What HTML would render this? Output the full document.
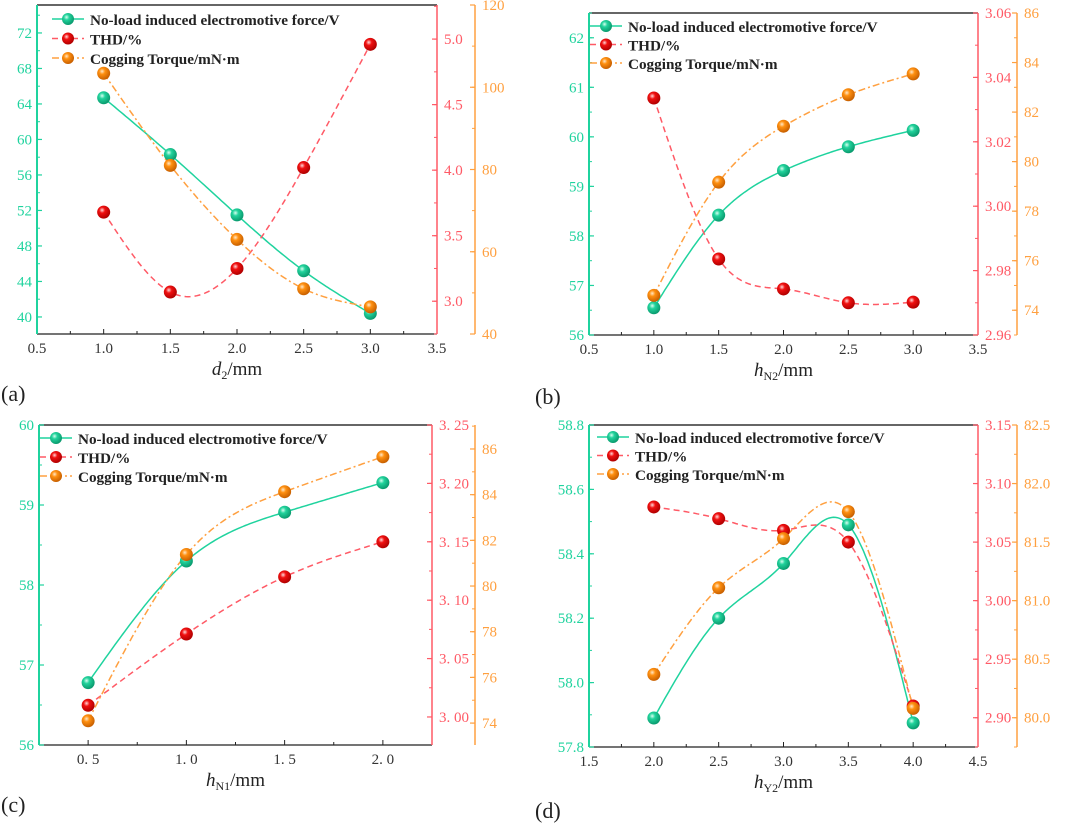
<!DOCTYPE html>
<html><head><meta charset="utf-8">
<style>
html,body{margin:0;padding:0;background:#fff;}
svg{display:block;font-family:"Liberation Serif",serif;}
</style></head>
<body>
<svg id="chart" width="1065" height="825" viewBox="0 0 1065 825" xmlns="http://www.w3.org/2000/svg">
<defs>
<radialGradient id="gT" cx="0.38" cy="0.35" r="0.65"><stop offset="0" stop-color="#d8fff0"/><stop offset="0.35" stop-color="#22d39c"/><stop offset="1" stop-color="#0a9a6e"/></radialGradient>
<radialGradient id="gR" cx="0.38" cy="0.35" r="0.65"><stop offset="0" stop-color="#ffd8d8"/><stop offset="0.35" stop-color="#f01010"/><stop offset="1" stop-color="#b00000"/></radialGradient>
<radialGradient id="gO" cx="0.38" cy="0.35" r="0.65"><stop offset="0" stop-color="#ffe8c8"/><stop offset="0.35" stop-color="#ff9010"/><stop offset="1" stop-color="#c86000"/></radialGradient>
</defs>
</svg>
<script>
// ---- data ----
const xA = [1.0,1.5,2.0,2.5,3.0];
const emfA = [64.7,58.3,51.5,45.2,40.4];
const thdA = [3.68,3.07,3.25,4.02,4.96];
const cogA = [103.4,81,63,51,46.6];

const xB = [1.0,1.5,2.0,2.5,3.0];
const emfB = [56.55,58.42,59.32,59.8,60.13];
const thdB = [3.0336,2.9836,2.9743,2.970,2.9702];
const cogB = [74.6,79.17,81.43,82.7,83.54];

const xC = [0.5,1.0,1.5,2.0];
const emfC = [56.78,58.3,58.91,59.28];
const thdC = [3.010,3.071,3.120,3.150];
const cogC = [74.1,81.38,84.13,85.66];

const xD = [2.0,2.5,3.0,3.5,4.0];
const emfD = [57.89,58.2,58.37,58.49,57.875];
const thdD = [3.08,3.07,3.06,3.05,2.91];
const cogD = [80.37,81.11,81.53,81.76,80.08];

const xTicksA = [0.5,1.0,1.5,2.0,2.5,3.0,3.5];
const xTicksC = [0.5,1.0,1.5,2.0];
const xTicksD = [1.5,2.0,2.5,3.0,3.5,4.0,4.5];

const NS="http://www.w3.org/2000/svg";
const svg=document.getElementById('chart');
const TEAL="#1fd39e", RED="#ff5a66", ORG="#ffa040";
function el(tag,attrs,parent){const e=document.createElementNS(NS,tag);for(const k in attrs)e.setAttribute(k,attrs[k]);(parent||svg).appendChild(e);return e;}

function spline(xs,ys){ // natural cubic spline
  const n=xs.length,h=[],al=[],l=[1],mu=[0],z=[0],c=new Array(n).fill(0),b=[],d=[];
  for(let i=0;i<n-1;i++)h.push(xs[i+1]-xs[i]);
  for(let i=1;i<n-1;i++)al[i]=3/h[i]*(ys[i+1]-ys[i])-3/h[i-1]*(ys[i]-ys[i-1]);
  for(let i=1;i<n-1;i++){l[i]=2*(xs[i+1]-xs[i-1])-h[i-1]*mu[i-1];mu[i]=h[i]/l[i];z[i]=(al[i]-h[i-1]*z[i-1])/l[i];}
  l[n-1]=1;z[n-1]=0;
  for(let j=n-2;j>=0;j--){c[j]=z[j]-mu[j]*c[j+1];b[j]=(ys[j+1]-ys[j])/h[j]-h[j]*(c[j+1]+2*c[j])/3;d[j]=(c[j+1]-c[j])/(3*h[j]);}
  return x=>{let i=0;while(i<n-2&&x>xs[i+1])i++;const t=x-xs[i];return ys[i]+b[i]*t+c[i]*t*t+d[i]*t*t*t;};
}
function fmt(v,dec,sp){let s=v.toFixed(dec);if(sp)s=s.replace('.','. ');return s;}

function panel(p){
  const g=el('g',{});
  
  
  const sx=v=>p.L+(v-p.xr[0])/(p.xr[1]-p.xr[0])*(p.R-p.L);
  const mk=(r)=>v=>p.B-(v-r[0])/(r[1]-r[0])*(p.B-p.T);
  const sy1=mk(p.y1),sy2=mk(p.y2),sy3=mk(p.y3);
  const top=el('line',{x1:p.L,y1:p.T,x2:p.R,y2:p.T,stroke:'#333','stroke-width':1.5},g);
  
  const xa=el('line',{x1:p.L,y1:p.B,x2:p.R,y2:p.B,stroke:'#222','stroke-width':1.2},g);
  
  p.xt.forEach((v,i)=>{
    const x=sx(v);
    el('line',{x1:x,y1:p.B,x2:x,y2:p.B-5,stroke:'#222'},g);
    if(i<p.xt.length-1&&p.xminor){el('line',{x1:sx(v+p.xminor),y1:p.B,x2:sx(v+p.xminor),y2:p.B-3,stroke:'#222'},g);}
    const t=el('text',{x:x,y:p.B+19,'text-anchor':'middle','font-size':15,fill:'#333'},g);
    t.textContent=fmt(v,1,p.sp);
    
  });
  const xt=el('text',{x:(p.L+p.R)/2,y:p.B+41,'text-anchor':'middle','font-size':19,fill:'#222'},g);
  xt.innerHTML=p.xtitle;
  
  function yaxis(x,r,ticks,minor,sy,col,dec,side,sp,nm){
    const a=el('line',{x1:x,y1:p.T,x2:x,y2:p.B,stroke:col,'stroke-width':side<0?2:1.5},g);
    
    ticks.forEach(v=>{
      const y=sy(v);
      el('line',{x1:x,y1:y,x2:x-side*5,y2:y,stroke:col,'stroke-width':1.2},g);
      const t=el('text',{x:side<0?x-5:x+7,y:y+5,'text-anchor':side<0?'end':'start','font-size':15,fill:col},g);
      t.textContent=fmt(v,dec,sp);
      
    });
    for(let v=ticks[0]-minor*4;v<=r[1]+1e-9;v+=minor){
      if(v<r[0]-1e-9)continue;
      const y=sy(v);el('line',{x1:x,y1:y,x2:x-side*3,y2:y,stroke:col},g);
    }
  }
  yaxis(p.L,p.y1,p.t1,p.m1,sy1,TEAL,p.d1,-1,false,'left-y-axis');
  yaxis(p.R,p.y2,p.t2,p.m2,sy2,RED,p.d2,1,p.sp,'thd-y-axis');
  yaxis(p.R3,p.y3,p.t3,p.m3,sy3,ORG,p.d3,1,false,'cogging-y-axis');
  const series=[
    {ys:p.emf,sy:sy1,col:TEAL,dash:'',grad:'gT',nm:'emf'},
    {ys:p.thd,sy:sy2,col:RED,dash:'6,4',grad:'gR',nm:'thd'},
    {ys:p.cog,sy:sy3,col:ORG,dash:'7,3,2,3',grad:'gO',nm:'cogging'}
  ];
  series.forEach(s=>{
    const f=spline(p.xs,s.ys);let d='';
    const x0=p.xs[0],x1=p.xs[p.xs.length-1];
    for(let k=0;k<=120;k++){const xv=x0+(x1-x0)*k/120;d+=(k?'L':'M')+sx(xv).toFixed(1)+','+s.sy(f(xv)).toFixed(1);}
    const path=el('path',{d:d,fill:'none',stroke:s.col,'stroke-width':1.5,'stroke-dasharray':s.dash},g);
    
  });
  series.forEach(s=>{
    p.xs.forEach((xv,i)=>{
      const c=el('circle',{cx:sx(xv),cy:s.sy(s.ys[i]),r:6.5,fill:'url(#'+s.grad+')'},g);
      
    });
  });
  const labels=['No-load induced electromotive force/V','THD/%','Cogging Torque/mN·m'];
  series.forEach((s,i)=>{
    const y=p.lg[1]+i*p.lg[2];
    const lg=el('g',{},g);
    
    el('line',{x1:p.lg[0],y1:y,x2:p.lg[0]+32,y2:y,stroke:s.col,'stroke-width':1.5,'stroke-dasharray':s.dash},lg);
    el('circle',{cx:p.lg[0]+16,cy:y,r:6,fill:'url(#'+s.grad+')'},lg);
    const t=el('text',{x:p.lg[0]+38,y:y+6,'font-size':15.2,'font-weight':600,fill:'#222'},lg);
    t.textContent=labels[i];
  });
  const pl=el('text',{x:p.lab[0],y:p.lab[1],'font-size':22,fill:'#222'},g);
  pl.textContent=p.label;
  
}

panel({name:'panel-a',L:37,R:437,R3:475,T:5,B:334,xr:[0.5,3.5],xs:xA,xt:xTicksA,xminor:0.25,
  y1:[38.08,75.15],t1:[40,44,48,52,56,60,64,68,72],m1:2,d1:0,
  y2:[2.75,5.26],t2:[3.0,3.5,4.0,4.5,5.0],m2:0.25,d2:1,
  y3:[40,120],t3:[40,60,80,100,120],m3:10,d3:0,
  emf:emfA,thd:thdA,cog:cogA,xtitle:'<tspan font-style="italic">d</tspan><tspan font-size="12" dy="4">2</tspan><tspan dy="-4">/mm</tspan>',
  lg:[52,19,19.5],label:'(a)',lab:[1,401]});
panel({name:'panel-b',L:589,R:978,R3:1017,T:13,B:335,xr:[0.5,3.5],xs:xB,xt:xTicksA,xminor:0.25,
  y1:[56,62.5],t1:[56,57,58,59,60,61,62],m1:0.5,d1:0,
  y2:[2.96,3.06],t2:[2.96,2.98,3.00,3.02,3.04,3.06],m2:0.01,d2:2,
  y3:[73,86],t3:[74,76,78,80,82,84,86],m3:1,d3:0,
  emf:emfB,thd:thdB,cog:cogB,xtitle:'<tspan font-style="italic">h</tspan><tspan font-size="12" dy="4">N2</tspan><tspan dy="-4">/mm</tspan>',
  lg:[590,26,18.5],label:'(b)',lab:[535,404]});
panel({name:'panel-c',L:39,R:432,R3:475,T:425,B:745,xr:[0.25,2.25],xs:xC,xt:xTicksC,xminor:0.25,sp:true,
  y1:[56,60],t1:[56,57,58,59,60],m1:0.5,d1:0,
  y2:[2.976,3.25],t2:[3.00,3.05,3.10,3.15,3.20,3.25],m2:0.025,d2:2,
  y3:[73.04,87.05],t3:[74,76,78,80,82,84,86],m3:1,d3:0,
  emf:emfC,thd:thdC,cog:cogC,xtitle:'<tspan font-style="italic">h</tspan><tspan font-size="12" dy="4">N1</tspan><tspan dy="-4">/mm</tspan>',
  lg:[40,438,19],label:'(c)',lab:[1,812]});
panel({name:'panel-d',L:589,R:978,R3:1017,T:425,B:747,xr:[1.5,4.5],xs:xD,xt:xTicksD,xminor:0.25,
  y1:[57.8,58.8],t1:[57.8,58.0,58.2,58.4,58.6,58.8],m1:0.1,d1:1,
  y2:[2.875,3.15],t2:[2.90,2.95,3.00,3.05,3.10,3.15],m2:0.025,d2:2,
  y3:[79.75,82.5],t3:[80.0,80.5,81.0,81.5,82.0,82.5],m3:0.25,d3:1,
  emf:emfD,thd:thdD,cog:cogD,xtitle:'<tspan font-style="italic">h</tspan><tspan font-size="12" dy="4">Y2</tspan><tspan dy="-4">/mm</tspan>',
  lg:[597,437,18.5],label:'(d)',lab:[535,818]});
</script>
</body></html>
